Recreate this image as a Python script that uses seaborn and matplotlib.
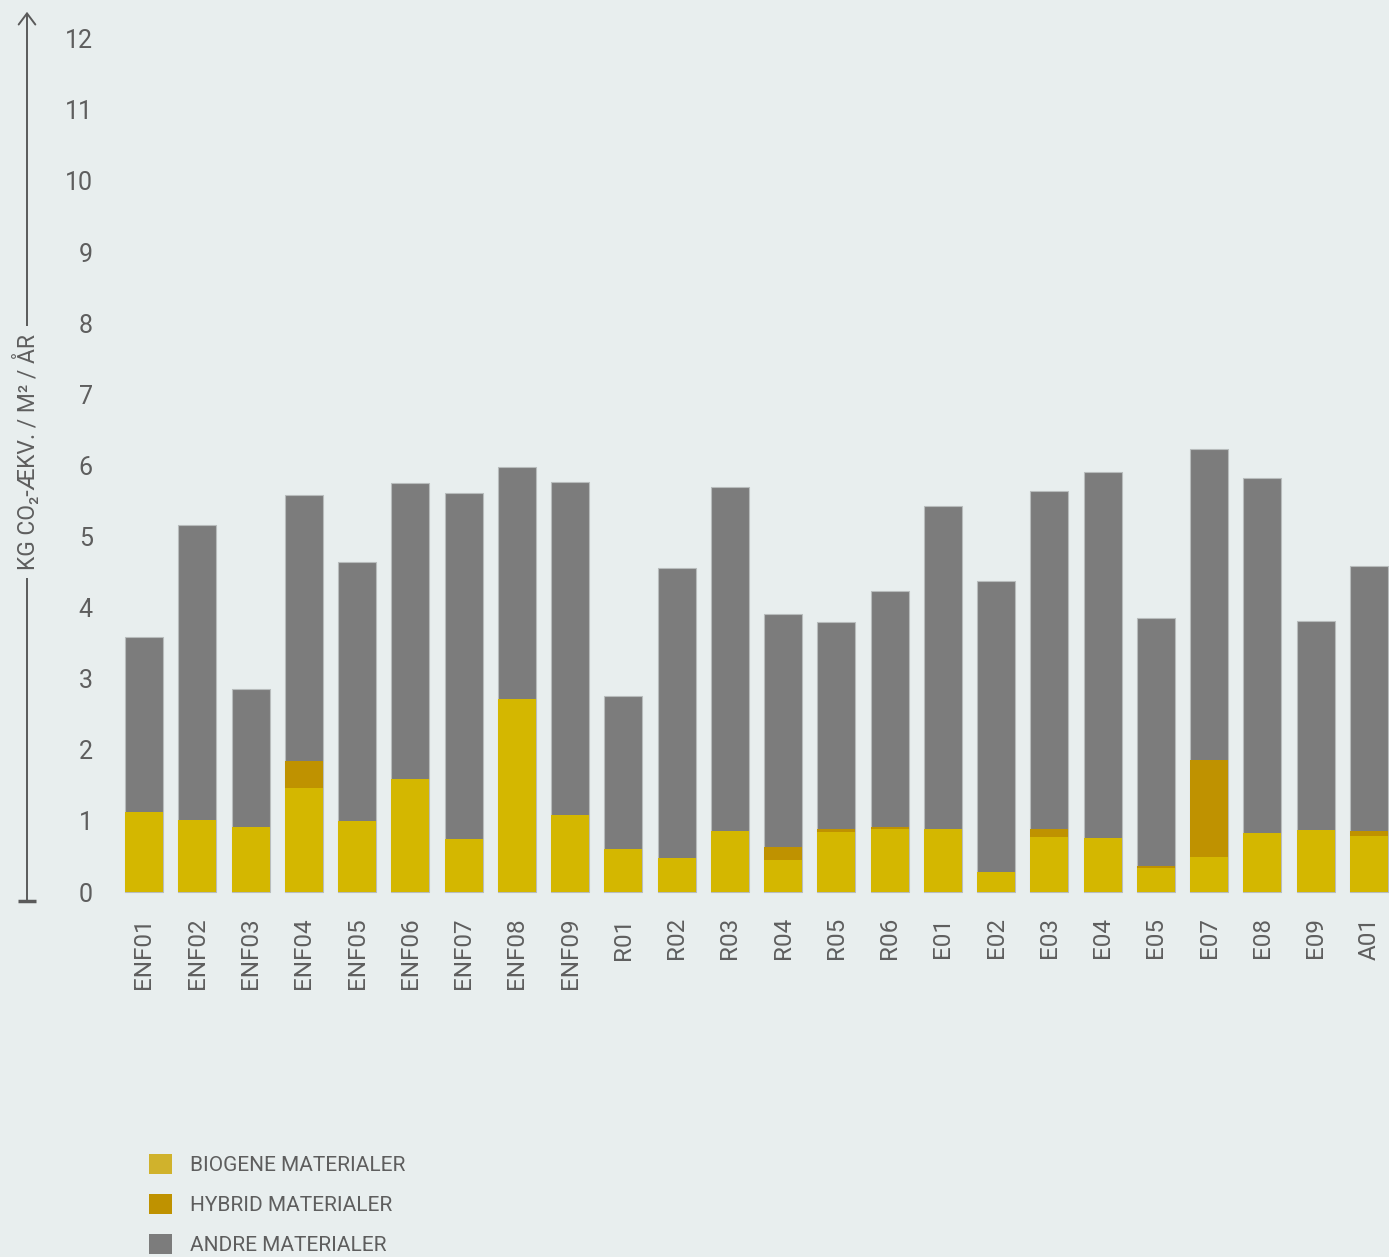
import numpy as np
import pandas as pd
import matplotlib
matplotlib.use("Agg")
import matplotlib.pyplot as plt
from matplotlib.patches import Patch
import seaborn as sns

# ---------------- data ----------------
projects = ["ENF01", "ENF02", "ENF03", "ENF04", "ENF05", "ENF06", "ENF07", "ENF08", "ENF09",
            "R01", "R02", "R03", "R04", "R05", "R06",
            "E01", "E02", "E03", "E04", "E05", "E07", "E08", "E09", "A01"]
biogene = [1.12, 1.01, 0.91, 1.46, 1.00, 1.59, 0.75, 2.71, 1.08,
           0.60, 0.48, 0.86, 0.45, 0.85, 0.88,
           0.89, 0.28, 0.77, 0.76, 0.34, 0.49, 0.83, 0.87, 0.79]
hybrid = [0.00, 0.00, 0.00, 0.38, 0.00, 0.00, 0.00, 0.00, 0.00,
          0.00, 0.00, 0.00, 0.18, 0.03, 0.04,
          0.00, 0.00, 0.12, 0.00, 0.03, 1.37, 0.00, 0.00, 0.07]
andre = [2.47, 4.15, 1.94, 3.75, 3.64, 4.16, 4.86, 3.27, 4.68,
         2.15, 4.08, 4.83, 3.28, 2.92, 3.32,
         4.54, 4.10, 4.75, 5.15, 3.48, 4.37, 4.99, 2.94, 3.72]
y_ticks = list(range(0, 13))
series_labels = ["BIOGENE MATERIALER", "HYBRID MATERIALER", "ANDRE MATERIALER"]
y_label = "KG CO\u2082-ÆKV. / M\u00b2 / ÅR"

# ---------------- style ----------------
BG = "#E8EEEE"
C_BIO = "#D4B700"
C_HYB = "#BF9200"
C_ANDRE = "#7C7C7C"
C_BIO_LEG = "#D0B22C"
TXT = "#5E5E5E"
AX = "#5A5A5A"

sns.set_theme(style="white")
plt.rcParams["font.family"] = ["Roboto", "DejaVu Sans"]

df = pd.DataFrame({"project": projects, "bio": biogene, "hyb": hybrid, "andre": andre})
df["lvl_bio"] = df["bio"]
df["lvl_hyb"] = df["bio"] + df["hyb"]
df["lvl_tot"] = df["bio"] + df["hyb"] + df["andre"]

W, H, DPI = 1389, 1257, 100
fig = plt.figure(figsize=(W / DPI, H / DPI), dpi=DPI, facecolor=BG)

ymin, ymax = -0.12, 12.38
px_per_unit = 71.1
zero_px = 892
top_px = zero_px - ymax * px_per_unit
bot_px = zero_px - ymin * px_per_unit
left_px, right_px = 27, 1389
ax = fig.add_axes([left_px / W, 1 - bot_px / H, (right_px - left_px) / W, (bot_px - top_px) / H])
ax.set_facecolor(BG)

bw = 0.713
sns.barplot(data=df, x="project", y="lvl_tot", color=C_ANDRE, saturation=1, width=bw,
            edgecolor="#B8BCBC", linewidth=0.8, ax=ax, order=projects)
sns.barplot(data=df, x="project", y="lvl_hyb", color=C_HYB, saturation=1, width=bw,
            linewidth=0, ax=ax, order=projects)
sns.barplot(data=df, x="project", y="lvl_bio", color=C_BIO, saturation=1, width=bw,
            linewidth=0, ax=ax, order=projects)

# x range: first bar centre at px 144, spacing 53.26 px
spacing = 53.26
ax.set_xlim((left_px - 144) / spacing, (right_px - 144) / spacing)
ax.set_ylim(ymin, ymax)

for s in ax.spines.values():
    s.set_visible(False)

ax.set_xlabel("")
ax.set_ylabel("")
ax.set_yticks(y_ticks)
ax.set_yticklabels([str(t) for t in y_ticks])
ax.tick_params(axis="y", length=0, pad=-47.5, labelsize=18, labelcolor=TXT)
for lab in ax.get_yticklabels():
    lab.set_horizontalalignment("right")
ax.tick_params(axis="x", length=0, pad=12, labelsize=17.5, labelcolor=TXT, rotation=90)

# axis arrow
ax.annotate("", xy=(0, 1), xytext=(0, 0), xycoords="axes fraction", textcoords="axes fraction",
            arrowprops=dict(arrowstyle="->,head_width=0.3,head_length=0.4", color=AX, lw=1.4,
                            mutation_scale=20, shrinkA=0, shrinkB=0), annotation_clip=False)
# bottom tick
ax.plot([(18 - left_px) / (right_px - left_px), (36 - left_px) / (right_px - left_px)], [0, 0],
        transform=ax.transAxes, color=AX, lw=2.5, clip_on=False, solid_capstyle="butt")

# y label breaking the line
lab_center_px = 452
ax.text(0, (bot_px - lab_center_px) / (bot_px - top_px), y_label, transform=ax.transAxes,
        rotation=90, ha="center", va="center", fontsize=16.5, color=TXT,
        bbox=dict(facecolor=BG, edgecolor="none", pad=6), zorder=5, clip_on=False)

# legend
handles = [Patch(facecolor=C_BIO_LEG, edgecolor="none"),
           Patch(facecolor=C_HYB, edgecolor="none"),
           Patch(facecolor=C_ANDRE, edgecolor="none")]
fig.legend(handles, series_labels, loc="upper left", bbox_to_anchor=(149 / W, 1 - 1154 / H),
           frameon=False, fontsize=15, handlelength=1.1, handleheight=1.1, handletextpad=0.85,
           labelspacing=0.9, borderpad=0, borderaxespad=0, labelcolor=TXT)

fig.savefig("out.png", dpi=DPI, facecolor=BG)
